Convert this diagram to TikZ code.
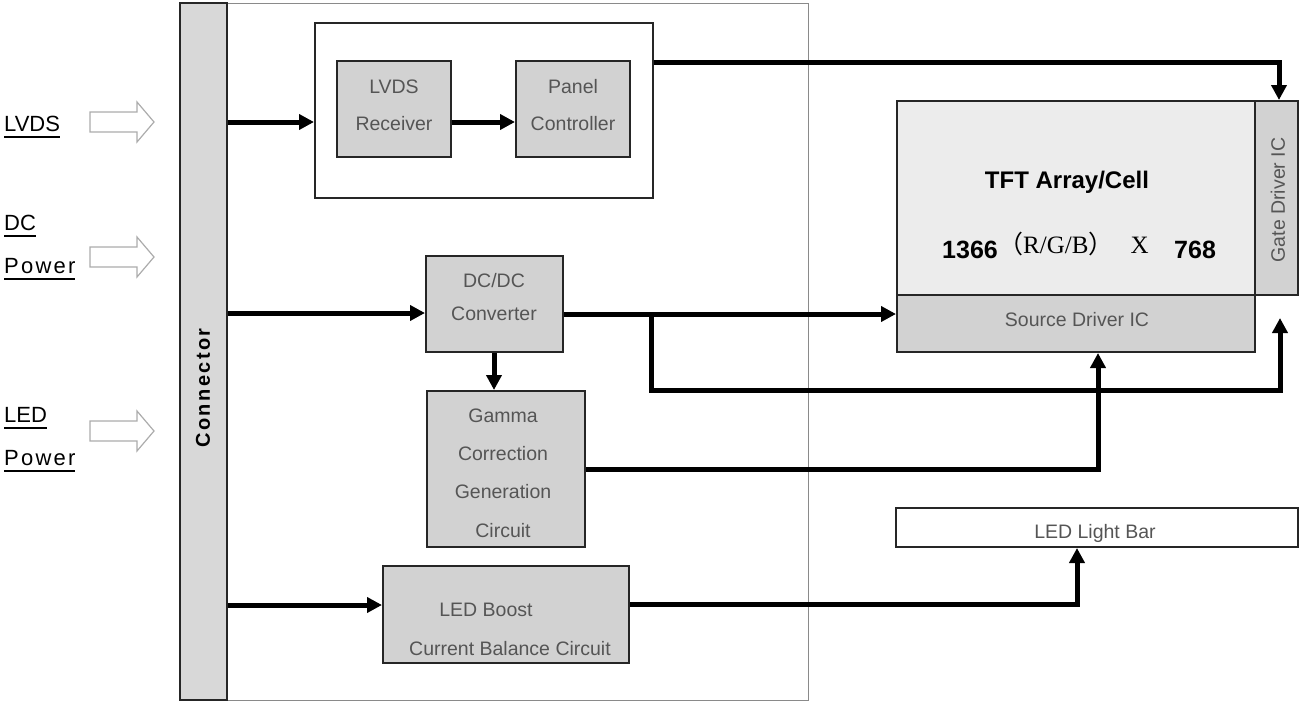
\documentclass[tikz,border=0pt]{standalone}
\usepackage{fontspec}
\setmainfont{Liberation Sans}
\newfontfamily\serifrm{Liberation Serif}
\newfontfamily\cjkf{Noto Sans CJK SC}
\usetikzlibrary{arrows.meta}
\definecolor{boxgray}{HTML}{D2D2D2}
\definecolor{conngray}{HTML}{D8D8D8}
\definecolor{tftgray}{HTML}{ECECEC}
\definecolor{lblgray}{HTML}{555555}
\definecolor{framegray}{HTML}{8A8A8A}
\newcommand\ulbl[1]{\setbox0\hbox{#1}\rlap{\rule[-7pt]{\wd0}{2pt}}\box0}
\begin{document}
\begin{tikzpicture}[x=1pt,y=-1pt,
  blk/.style={draw=black!85,line width=2pt,fill=boxgray,inner sep=0pt},
  wbox/.style={draw=black!85,line width=2pt,fill=white,inner sep=0pt},
  lbl/.style={text=lblgray,font=\fontsize{19.5}{37}\selectfont,align=center,inner sep=0pt,anchor=base},
  side/.style={font=\fontsize{22}{26}\selectfont,anchor=base west,inner sep=0pt},
  hollow/.style={draw=gray!65,line width=1.2pt,fill=white,line join=miter},
  bus/.style={line width=5pt,-{Triangle[length=15pt,width=15pt]}},
]
\useasboundingbox (0,0) rectangle (1299,704);
% frame and connector
\node[draw=framegray,line width=1pt,minimum width=628pt,minimum height=697pt,inner sep=0pt] (frame) at (494,351.5) {};
\node[draw=black!85,line width=1.5pt,fill=conngray,minimum width=47pt,minimum height=697pt,inner sep=0pt] (conn) at (203.5,351.5) {};
\node[rotate=90,font=\fontsize{20}{24}\selectfont\bfseries\addfontfeature{LetterSpace=12},inner sep=0pt] (connl) at (203,388) {Connector};
% side labels and hollow arrows
\node[side] (l1) at (4,131) {\ulbl{LVDS}};
\node[side] (l2) at (4,230) {\ulbl{DC}};
\node[side] (l3) at (4,273) {\ulbl{\addfontfeature{LetterSpace=10}Power}};
\node[side] (l4) at (4,422) {\ulbl{LED}};
\node[side] (l5) at (4,465) {\ulbl{\addfontfeature{LetterSpace=10}Power}};
\foreach \yy in {122,257,431}
  \draw[hollow,shift={(122,\yy)}] (-32,-10) -- (15,-10) -- (15,-20) -- (32,0) -- (15,20) -- (15,10) -- (-32,10) -- cycle;
% upper group
\node[wbox,minimum width=338pt,minimum height=175pt] (ub) at (484,110.5) {};
\node[blk,minimum width=114pt,minimum height=96pt] (rx) at (394,109) {};
\node[lbl] (rxl) at (394,130) {LVDS\\Receiver};
\node[blk,minimum width=114pt,minimum height=96pt] (pc) at (573,109) {};
\node[lbl] (pcl) at (573,130) {Panel\\Controller};
% middle
\node[blk,minimum width=137pt,minimum height=96pt] (dcdc) at (494.5,304) {};
\node[lbl,font=\fontsize{19.5}{33}\selectfont] (dcdcl) at (494,320) {DC/DC\\Converter};
\node[blk,minimum width=158pt,minimum height=156pt] (gamma) at (506,469) {};
\node[lbl,font=\fontsize{19.5}{38.3}\selectfont] (gammal) at (503,537) {Gamma\\Correction\\Generation\\Circuit};
\node[blk,minimum width=246pt,minimum height=97pt] (boost) at (506,614.5) {};
\node[lbl] (boostl1) at (486,616) {LED Boost};
\node[lbl] (boostl2) at (510,655) {Current Balance Circuit};
% panel side
\node[draw=black!85,line width=2pt,fill=tftgray,minimum width=358pt,minimum height=194pt,inner sep=0pt] (tft) at (1076,198) {};
\node[anchor=base,font=\fontsize{24}{26}\selectfont\bfseries,inner sep=0pt] (tftl) at (1067,188) {TFT Array/Cell};
\node[anchor=base west,font=\fontsize{25}{28}\selectfont\bfseries,inner sep=0pt] (n1) at (942,258) {1366};
\node[anchor=base west,font=\serifrm\fontsize{25}{28}\selectfont,inner sep=0pt] (n2) at (998,253) {{\cjkf （}R/G/B{\cjkf ）}\hspace{17pt}X};
\node[anchor=base west,font=\fontsize{25}{28}\selectfont\bfseries,inner sep=0pt] (n3) at (1174,258) {768};
\node[blk,minimum width=358pt,minimum height=57pt] (src) at (1076,323.5) {};
\node[lbl] (srcl) at (1077,326) {Source Driver IC};
\node[blk,minimum width=43pt,minimum height=194pt] (gate) at (1276.5,198) {};
\node[lbl,anchor=center,rotate=90] (gatel) at (1278,200) {Gate Driver IC};
\node[draw=black!85,line width=2pt,fill=white,minimum width=402pt,minimum height=39pt,inner sep=0pt] (bar) at (1097,527.5) {};
\node[lbl] (barl) at (1095,538) {LED Light Bar};
% connectors
\draw[bus] (conn.east |- 0,122) -- (ub.west |- 0,122);
\draw[bus] (rx.east |- 0,122) -- (pc.west |- 0,122);
\draw[bus] (ub.east |- 0,62) -| (gate.north -| 1279,0);
\draw[bus] (conn.east |- 0,313) -- (dcdc.west |- 0,313);
\draw[bus] (dcdc.east |- 0,314) -- (src.west |- 0,314);
\coordinate (br) at (651,314);
\coordinate (bend) at (651,390);
\coordinate (gtip) at (1280,318);
\draw[bus] (br) -- (bend) -| (gtip);
\draw[bus] (dcdc.south -| 494,0) -- (gamma.north -| 494,0);
\draw[bus] (gamma.east |- 0,469) -| (src.south -| 1098,0);
\draw[bus] (conn.east |- 0,605) -- (boost.west |- 0,605);
\draw[bus] (boost.east |- 0,604) -| (bar.south -| 1077,0);
\end{tikzpicture}
\end{document}
